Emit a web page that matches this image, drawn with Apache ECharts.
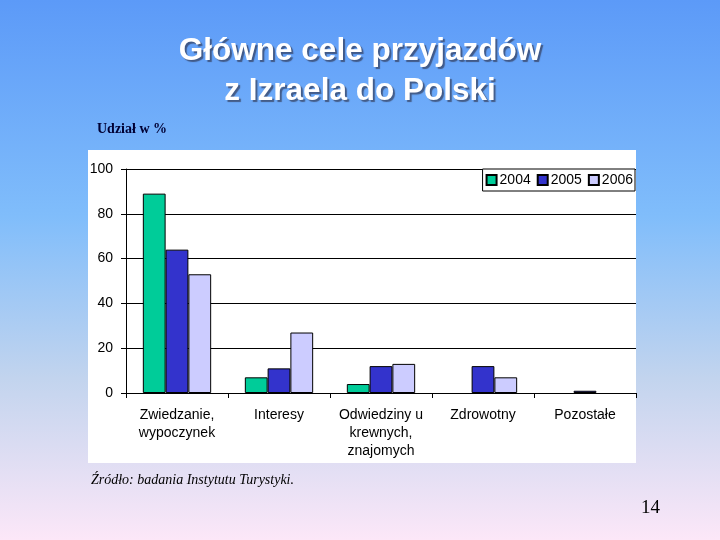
<!DOCTYPE html>
<html>
<head>
<meta charset="utf-8">
<script src="https://cdn.jsdelivr.net/npm/echarts@6/dist/echarts.min.js"></script>
<style>html,body{margin:0;padding:0;}#c{width:720px;height:540px;}</style>
</head>
<body>
<div id="c"></div>
<script>
const categories = ['Zwiedzanie,\nwypoczynek', 'Interesy', 'Odwiedziny u\nkrewnych,\nznajomych', 'Zdrowotny', 'Pozostałe'];
const seriesNames = ['2004', '2005', '2006'];
// null = no bar drawn in the reference
const values2004 = [89, 7, 4, null, null];
const values2005 = [64, 11, 12, 12, 1];
const values2006 = [53, 27, 13, 7, null];
const colors = ['#00cc99', '#3333cc', '#ccccff'];
const yTicks = { min: 0, max: 100, interval: 20 };

const chart = echarts.init(document.getElementById('c'), null, { renderer: 'canvas' });
const allValues = [values2004, values2005, values2006];
chart.setOption({
  backgroundColor: new echarts.graphic.LinearGradient(0, 0, 0, 1, [
    { offset: 0, color: '#5c9af8' },
    { offset: 0.4, color: '#80bdfb' },
    { offset: 0.7, color: '#c2d4ee' },
    { offset: 1, color: '#fce7f8' }
  ]),
  animation: false,
  title: [
    {
      text: 'Główne cele przyjazdów\nz Izraela do Polski',
      left: 'center', top: 26,
      textStyle: {
        color: '#ffffff', fontFamily: 'Liberation Sans, Arial, sans-serif',
        fontSize: 31.5, fontWeight: 'bold', lineHeight: 40,
        textShadowColor: 'rgba(40,40,60,0.6)', textShadowOffsetX: 2, textShadowOffsetY: 2, textShadowBlur: 1
      }
    },
    {
      text: 'Udział w %', left: 92, top: 117,
      textStyle: { color: '#000033', fontFamily: 'Liberation Serif, Times New Roman, serif', fontSize: 14, fontWeight: 'bold' }
    },
    {
      text: 'Źródło: badania Instytutu Turystyki.', left: 86, top: 468,
      textStyle: { color: '#000000', fontFamily: 'Liberation Serif, Times New Roman, serif', fontSize: 14, fontStyle: 'italic', fontWeight: 'normal' }
    },
    {
      text: '14', left: 636, top: 494,
      textStyle: { color: '#000000', fontFamily: 'Liberation Serif, Times New Roman, serif', fontSize: 19, fontWeight: 'normal' }
    }
  ],
  graphic: [
    { type: 'rect', z: -10, shape: { x: 88, y: 150, width: 548, height: 313 }, style: { fill: '#ffffff' } }
  ],
  legend: {
    data: seriesNames,
    right: 85, top: 169,
    orient: 'horizontal',
    backgroundColor: '#ffffff',
    borderColor: '#000000', borderWidth: 1,
    padding: [4, 2, 4, 3],
    itemGap: 6, itemWidth: 10, itemHeight: 10,
    icon: 'rect',
    textStyle: { color: '#000000', fontFamily: 'Liberation Sans, Arial, sans-serif', fontSize: 14, padding: [0, 0, 0, -2] }
  },
  grid: { left: 126, right: 84, top: 169, bottom: 147, containLabel: false },
  xAxis: {
    type: 'category',
    data: categories,
    axisLine: { lineStyle: { color: '#000000', width: 1 } },
    axisTick: { show: true, interval: 0, length: 5, lineStyle: { color: '#000000' } },
    axisLabel: { interval: 0, color: '#000000', fontFamily: 'Liberation Sans, Arial, sans-serif', fontSize: 14, lineHeight: 18, margin: 13 },
    splitLine: { show: false }
  },
  yAxis: {
    type: 'value',
    min: yTicks.min, max: yTicks.max, interval: yTicks.interval,
    axisLine: { show: true, lineStyle: { color: '#000000', width: 1 } },
    axisTick: { show: true, length: 5, lineStyle: { color: '#000000' } },
    axisLabel: { color: '#000000', fontFamily: 'Liberation Sans, Arial, sans-serif', fontSize: 14, margin: 13 },
    splitLine: { show: true, lineStyle: { color: '#000000', width: 1 } }
  },
  series: seriesNames.map((name, i) => ({
    name: name,
    type: 'bar',
    data: allValues[i],
    barGap: '0%',
    barCategoryGap: '33%',
    itemStyle: { color: colors[i], borderColor: '#000000', borderWidth: 1 }
  }))
});
</script>
</body>
</html>
